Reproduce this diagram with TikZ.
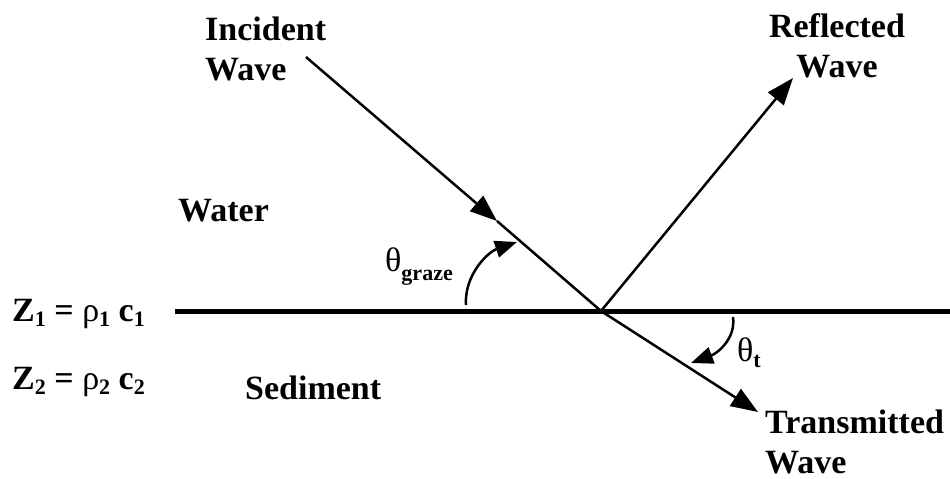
\documentclass[tikz,border=0pt]{standalone}
\usepackage{fontspec}
\setmainfont{Liberation Serif}
\usetikzlibrary{arrows.meta}
\newcommand{\sbs}[2][5pt]{\raisebox{-#1}{\fontsize{22}{22}\selectfont #2}}
\newcommand{\grk}[1]{{\mdseries #1}}
\begin{document}
\begin{tikzpicture}[x=1pt,y=-1pt,
  lbl/.style={font=\fontsize{34}{40}\selectfont\bfseries, inner sep=0pt},
  ray/.style={line width=2.5pt},
  surf/.style={line width=5pt},
  tipbig/.style={-{Triangle[length=27pt,width=20pt]}},
  tipsmall/.style={-{Triangle[length=22pt,width=17pt]}}]
\useasboundingbox (0,0) rectangle (950,479);
% points
\coordinate (O) at (601,311);
\coordinate (iS) at (306,57);
\coordinate (iM) at (497,221);
\coordinate (rE) at (793,78);
\coordinate (tE) at (758,412);
\coordinate (sL) at (175,311);
\coordinate (sR) at (950,311);
\coordinate (gA) at (466,305);
\coordinate (gB) at (517,242);
\coordinate (tA) at (733,317);
\coordinate (tB) at (691,363);
% interface
\draw[surf] (sL) -- (sR);
% rays
\draw[ray, tipbig] (iS) -- (iM);
\draw[ray] (iM) -- (O);
\draw[ray, tipbig] (O) -- (rE);
\draw[ray, tipbig] (O) -- (tE);
% angle arcs
\draw[ray, tipsmall] (gA) .. controls (464,275) and (488,252) .. (gB);
\draw[ray, tipsmall] (tA) .. controls (736,338) and (718,353) .. (tB);
% labels (base anchor of a two-line node = baseline of its last line)
\node[lbl, anchor=base west, align=left] (inc) at (205,80) {Incident\\Wave};
\node[lbl, anchor=base, align=center] (ref) at (837,77) {Reflected\\Wave};
\node[lbl, anchor=base west] (wat) at (178,221) {Water};
\node[lbl, anchor=base west] (sed) at (245,399) {Sediment};
\node[lbl, anchor=base west, align=left] (tra) at (765,473) {Transmitted\\Wave};
\node[lbl, anchor=base west] (z1) at (12,321) {Z\sbs{1} = \grk{ρ}\sbs{1} c\sbs{1}};
\node[lbl, anchor=base west] (z2) at (12,389) {Z\sbs{2} = \grk{ρ}\sbs{2} c\sbs{2}};
\node[lbl, anchor=base west] (thg) at (385,271) {\grk{θ}\sbs[9pt]{graze}};
\node[lbl, anchor=base west] (tht) at (737,361) {\grk{θ}\sbs[6pt]{t}};
\end{tikzpicture}
\end{document}
